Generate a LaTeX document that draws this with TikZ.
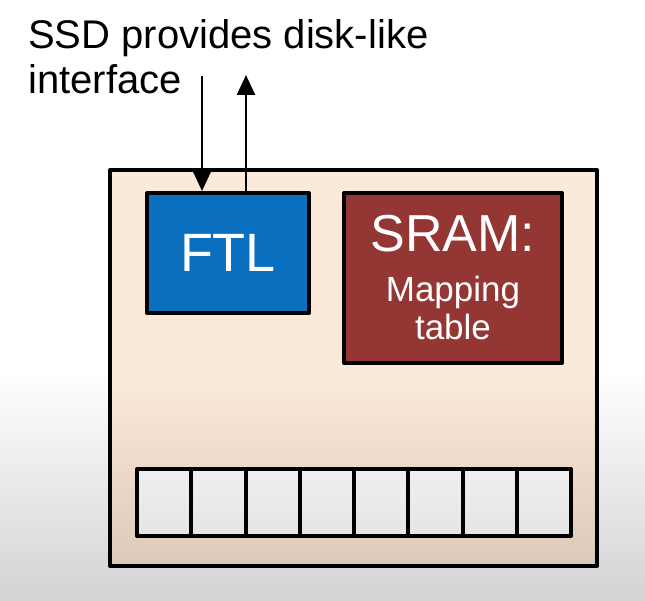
\documentclass[tikz,border=0pt]{standalone}
\usepackage{fontspec}
\setmainfont{Liberation Sans}
\usetikzlibrary{arrows.meta}
\definecolor{ftlblue}{HTML}{0A6FBF}
\definecolor{sramred}{HTML}{943634}
\definecolor{peach}{HTML}{FBE9D9}
\definecolor{peachdark}{HTML}{DCC9B8}
\definecolor{bggrey}{HTML}{D3D3D3}
\definecolor{cellgrey}{HTML}{EFEFEF}
\definecolor{cellgreyb}{HTML}{E5E5E5}
\tikzset{
  boxline/.style={line width=4pt, draw=black, line join=round},
  cellbox/.style={boxline, minimum width=54.25pt, minimum height=67pt, inner sep=0pt,
                  top color=cellgrey, bottom color=cellgreyb},
  arr/.style={line width=2.6pt, -{Triangle[length=20pt,width=18pt]}},
  wtext/.style={text=white, inner sep=0pt},
}
\begin{document}
\begin{tikzpicture}[x=1pt,y=-1pt]
\useasboundingbox (0,0) rectangle (645,601);
% background
\fill[white] (0,0) rectangle (645,601);
\shade[top color=white, bottom color=bggrey] (0,370) rectangle (645,601);
% SSD box
\fill[peach] (110,170) rectangle (597,566);
\shade[top color=peach, bottom color=peachdark] (110,380) rectangle (597,566);
\node[boxline, minimum width=487pt, minimum height=396pt, inner sep=0pt] (ssd) at (353.5,368) {};
% FTL
\node[boxline, fill=ftlblue, minimum width=162pt, minimum height=120pt, inner sep=0pt] (ftl) at (228,253) {};
\node[wtext, anchor=base, font=\fontsize{54}{60}\selectfont] (ftltext) at (228,272) {FTL};
% SRAM
\node[boxline, fill=sramred, minimum width=218pt, minimum height=170pt, inner sep=0pt] (sram) at (453,278) {};
\node[wtext, anchor=base, font=\fontsize{52}{58}\selectfont] (sramtext) at (453,252) {SRAM:};
\node[wtext, anchor=base, font=\fontsize{35}{40}\selectfont] (map) at (453,302) {Mapping};
\node[wtext, anchor=base, font=\fontsize{35}{40}\selectfont] (tab) at (453,340) {table};
% cells
\foreach \i in {1,...,8} {
  \node[cellbox] (c\i) at ({137+54.25*(\i-0.5)},502.5) {};
}
% title
\node[anchor=base west, inner sep=0pt, font=\fontsize{40}{46}\selectfont] (t1) at (28,49) {SSD provides disk-like};
\node[anchor=base west, inner sep=0pt, font=\fontsize{40}{46}\selectfont] (t2) at (28,94) {interface};
% arrows
\coordinate (inTop) at (202,76);
\coordinate (outTop) at (246,75);
\draw[arr] (inTop) -- (inTop |- ftl.north);
\draw[arr] (outTop |- ftl.north) -- (outTop);
\end{tikzpicture}
\end{document}
